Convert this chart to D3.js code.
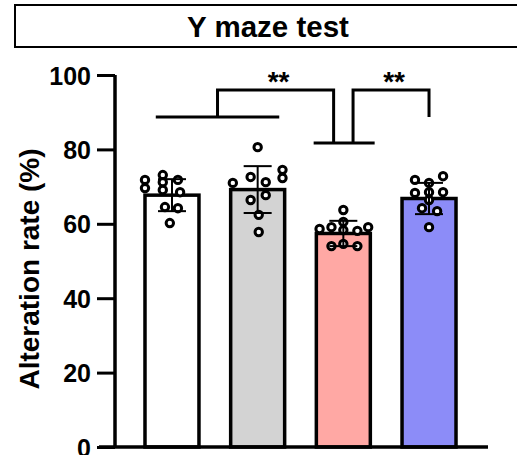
<!DOCTYPE html>
<html>
<head>
<meta charset="utf-8">
<script src="https://cdn.jsdelivr.net/npm/d3@7"></script>
<style>
  body { margin: 0; background: #fff; }
  svg { display: block; font-family: "Liberation Sans", Arial, sans-serif; font-weight: bold; }
</style>
</head>
<body>
<svg id="chart"></svg>
<script>
// groups (no labels are shown under the bars)
const groups = ["G1", "G2", "G3", "G4"];
const colors = ["#ffffff", "#d3d3d3", "#ffa8a4", "#8c8cf8"];
const means = [67.7, 69.2, 57.4, 66.8];
const sds = [4.3, 6.3, 3.4, 4.2];

// individual animals
const points = [
  [71.8, 69.6, 73.1, 71.2, 69.1, 71.8, 68.5, 64.5, 64.2, 60.2],
  [80.6, 71.0, 72.6, 71.2, 74.5, 72.3, 67.7, 66.4, 62.4, 57.8],
  [63.7, 60.5, 58.6, 59.1, 58.3, 58.1, 59.1, 54.0, 54.6, 54.0],
  [71.8, 71.0, 72.8, 68.3, 68.5, 68.5, 66.4, 64.2, 63.4, 59.1]
];
// horizontal jitter as a fraction of bar width
const jitter = [
  [-0.5, -0.5, -0.17, -0.17, -0.17, 0.11, 0.15, -0.13, 0.11, -0.04],
  [0, -0.46, -0.13, 0.15, 0.46, 0.46, 0.15, -0.13, 0.02, 0.02],
  [0, 0, -0.44, -0.22, 0, 0.26, 0.46, -0.22, 0, 0.26],
  [-0.26, 0, 0.26, -0.26, 0, 0.26, 0, -0.13, 0.15, 0]
];

const yTicks = [0, 20, 40, 60, 80, 100];
const title = "Y maze test";
const yLabel = "Alteration rate (%)";
// significance levels (data units)
const groupLine12 = 88.7, groupLine3 = 81.7, bracketTop = 96;
const stars = ["**", "**"];

const W = 517, H = 455;
const svg = d3.select("#chart").attr("width", W).attr("height", H);

const y = d3.scaleLinear().domain([0, 100]).range([447, 75]);
const x = d3.scaleBand().domain(groups).range([115, 486])
  .paddingInner(0.37).paddingOuter(0.35);
const bw = x.bandwidth();
const cx = i => x(groups[i]) + bw / 2;

// title box
svg.append("rect")
  .attr("x", 15).attr("y", 5).attr("width", 520).attr("height", 42)
  .attr("fill", "none").attr("stroke", "#000").attr("stroke-width", 2);
svg.append("text")
  .attr("x", 268).attr("y", 37)
  .attr("text-anchor", "middle")
  .attr("font-size", 29.5)
  .text(title);

// bars
svg.selectAll("rect.bar")
  .data(means).enter().append("rect")
  .attr("class", "bar")
  .attr("x", (d, i) => x(groups[i]))
  .attr("y", d => y(d))
  .attr("width", bw)
  .attr("height", d => y(0) - y(d))
  .attr("fill", (d, i) => colors[i])
  .attr("stroke", "#000")
  .attr("stroke-width", 3.5);

// points
points.forEach((vals, i) => {
  svg.selectAll(null)
    .data(vals).enter().append("circle")
    .attr("cx", (d, j) => cx(i) + jitter[i][j] * bw)
    .attr("cy", d => y(d))
    .attr("r", 3.7)
    .attr("fill", "#fff")
    .attr("stroke", "#000")
    .attr("stroke-width", 3);
});

// error bars
const eb = svg.append("g").attr("stroke", "#000").attr("stroke-width", 2);
means.forEach((m, i) => {
  eb.append("line")
    .attr("x1", cx(i)).attr("x2", cx(i))
    .attr("y1", y(m - sds[i])).attr("y2", y(m + sds[i]));
  [m - sds[i], m + sds[i]].forEach(v => {
    eb.append("line")
      .attr("x1", cx(i) - 14).attr("x2", cx(i) + 14)
      .attr("y1", y(v)).attr("y2", y(v));
  });
});

// y axis
const yAxis = svg.append("g")
  .attr("transform", "translate(115,0)")
  .call(d3.axisLeft(y).tickValues(yTicks).tickSize(18).tickPadding(6));
yAxis.select(".domain").attr("stroke-width", 3.5).attr("d", `M0,${y(100)}V${y(0)}`);
yAxis.selectAll(".tick line").attr("stroke-width", 3);
yAxis.selectAll(".tick text")
  .attr("font-size", 25).attr("font-family", "Liberation Sans, Arial, sans-serif")
  .attr("font-weight", "bold").attr("fill", "#000").attr("dy", "0.36em");

// x axis line
svg.append("line")
  .attr("x1", 99).attr("x2", 488)
  .attr("y1", y(0)).attr("y2", y(0))
  .attr("stroke", "#000").attr("stroke-width", 3.5);

// y label
svg.append("text")
  .attr("transform", `translate(39,${(y(0) + y(100)) / 2 + 8}) rotate(-90)`)
  .attr("text-anchor", "middle")
  .attr("font-size", 28)
  .text(yLabel);

// significance brackets
const br = svg.append("g").attr("fill", "none").attr("stroke", "#000").attr("stroke-width", 3);
const g12L = cx(0) - 0.3 * bw, g12R = cx(1) + 0.4 * bw;
const g12M = (g12L + g12R) / 2;
br.append("line").attr("x1", g12L).attr("x2", g12R)
  .attr("y1", y(groupLine12)).attr("y2", y(groupLine12));
br.append("line").attr("x1", cx(2) - 0.55 * bw).attr("x2", cx(2) + 0.58 * bw)
  .attr("y1", y(groupLine3)).attr("y2", y(groupLine3));
const b1R = cx(2) - 0.18 * bw, b2L = cx(2) + 0.18 * bw;
br.append("path")
  .attr("d", `M${g12M},${y(groupLine12)}V${y(bracketTop)}H${b1R}V${y(groupLine3)}`);
br.append("path")
  .attr("d", `M${b2L},${y(groupLine3)}V${y(bracketTop)}H${cx(3)}V${y(groupLine12)}`);
[[g12M, b1R], [b2L, cx(3)]].forEach((p, k) => {
  svg.append("text")
    .attr("x", (p[0] + p[1]) / 2 + 3).attr("y", y(bracketTop) + 1)
    .attr("text-anchor", "middle")
    .attr("font-size", 28)
    .text(stars[k]);
});
</script>
</body>
</html>
